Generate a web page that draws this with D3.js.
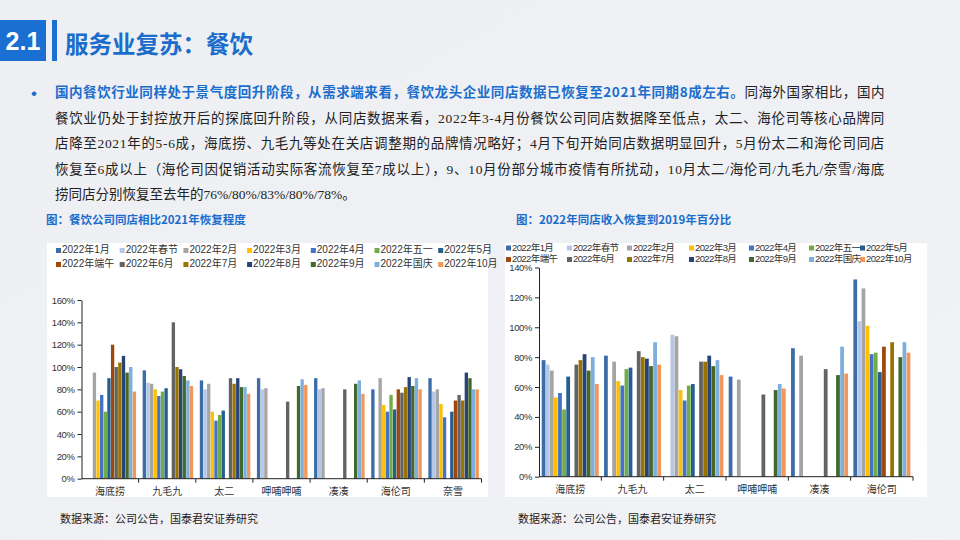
<!DOCTYPE html>
<html>
<head>
<meta charset="utf-8">
<script src="https://cdn.jsdelivr.net/npm/d3@7"></script>
<style>
  body { margin: 0; padding: 0; }
  svg { display: block; }
</style>
</head>
<body>
<div id="chart"></div>
<script>
// series (legend order) and colours
const seriesNames = ["2022年1月", "2022年春节", "2022年2月", "2022年3月", "2022年4月", "2022年五一", "2022年5月",
  "2022年端午", "2022年6月", "2022年7月", "2022年8月", "2022年9月", "2022年国庆", "2022年10月"];
const seriesColors = ["#3B6EA8", "#B4C7E7", "#A5A5A5", "#FFC000", "#4472C4", "#70AD47", "#255E91",
  "#9E480E", "#636363", "#997300", "#264478", "#43682B", "#7CAFDD", "#F1975A"];

// left chart: same store vs 2021 (%)
const leftCompanies = ["海底捞", "九毛九", "太二", "呷哺呷哺", "凑凑", "海伦司", "奈雪"];
const leftHaidilao = [null, null, 95, 70, 75, 60, 90, 120, 100, 104, 110, 95, 100, 78];
const leftJiumaojiu = [97, 86, 85, 80, 74, 78, 81, null, 140, 100, 98, 92, 88, 83];
const leftTaier = [88, 80, 85, 60, 52, 57, 61, null, 90, 85, 90, 82, 82, 76];
const leftXiabu = [90, 80, 81, null, null, null, null, null, 69, null, null, 83, 89, 84];
const leftCoucou = [90, 80, 81, null, null, null, null, null, 80, null, null, 85, 88, 76];
const leftHelens = [80, null, 90, 66, 60, 75, 62, 80, 77, 82, 91, 83, 90, 80];
const leftNaixue = [90, 78, 80, 67, 55, null, 60, 70, 75, 70, 95, 90, 80, 80];
const leftValues = [leftHaidilao, leftJiumaojiu, leftTaier, leftXiabu, leftCoucou, leftHelens, leftNaixue];
const leftTicks = [0, 20, 40, 60, 80, 100, 120, 140, 160];

// right chart: 2022 same store revenue vs 2019 (%)
const rightCompanies = ["海底捞", "九毛九", "太二", "呷哺呷哺", "凑凑", "海伦司"];
const rightHaidilao = [78, 75, 71, 53, 56, 45, 67, null, 75, 78, 82, 71, 80, 62];
const rightJiumaojiu = [81, null, 77, 64, 61, 72, 73, null, 84, 80, 79, 74, 90, 75];
const rightTaier = [null, 95, 94, 58, 51, 61, 62, null, 77, 77, 81, 74, 78, 68];
const rightXiabu = [67, null, 65, null, null, null, null, null, 55, null, null, 58, 62, 59];
const rightCoucou = [86, null, 81, null, null, null, null, null, 72, null, null, 68, 87, 69];
const rightHelens = [132, 104, 126, 101, 82, 83, 70, 87, null, 90, null, 80, 90, 83];
const rightValues = [rightHaidilao, rightJiumaojiu, rightTaier, rightXiabu, rightCoucou, rightHelens];
const rightTicks = [0, 20, 40, 60, 80, 100, 120, 140];

const width = 960, height = 540;
const cjk = "'Noto Sans CJK SC', 'Microsoft YaHei', sans-serif";
const blue = "#1B6DCC";

const svg = d3.select("#chart").append("svg")
  .attr("width", width)
  .attr("height", height);

// background
const grad = svg.append("defs").append("linearGradient")
  .attr("id", "bg").attr("x1", 0).attr("y1", 0).attr("x2", 1).attr("y2", 1);
grad.append("stop").attr("offset", "0%").attr("stop-color", "#EDEFF3");
grad.append("stop").attr("offset", "100%").attr("stop-color", "#F1F2F6");
svg.append("rect").attr("width", width).attr("height", height).attr("fill", "url(#bg)");

// header
svg.append("rect").attr("x", 0).attr("y", 20).attr("width", 46).attr("height", 41).attr("fill", "#1A6FD2");
svg.append("text").attr("x", 23).attr("y", 50).attr("text-anchor", "middle")
  .attr("fill", "#fff").attr("font-family", "'Liberation Sans', Arial").attr("font-weight", "bold")
  .attr("font-size", 25).text("2.1");
svg.append("rect").attr("x", 52).attr("y", 20).attr("width", 5).attr("height", 41).attr("fill", "#1A6FD2");
svg.append("text").attr("x", 65).attr("y", 53)
  .attr("fill", blue).attr("font-family", cjk).attr("font-weight", "bold")
  .attr("font-size", 23.5).text("服务业复苏：餐饮");

// paragraph
svg.append("text").attr("x", 31).attr("y", 99).attr("fill", blue)
  .attr("font-size", 17).attr("font-family", "'Liberation Sans', Arial").text("•");

const paraLines = [
  [["国内餐饮行业同样处于景气度回升阶段，从需求端来看，餐饮龙头企业同店数据已恢复至2021年同期8成左右。", true], ["同海外国家相比，国内", false]],
  [["餐饮业仍处于封控放开后的探底回升阶段，从同店数据来看，2022年3-4月份餐饮公司同店数据降至低点，太二、海伦司等核心品牌同", false]],
  [["店降至2021年的5-6成，海底捞、九毛九等处在关店调整期的品牌情况略好；4月下旬开始同店数据明显回升，5月份太二和海伦司同店", false]],
  [["恢复至6成以上（海伦司因促销活动实际客流恢复至7成以上），9、10月份部分城市疫情有所扰动，10月太二/海伦司/九毛九/奈雪/海底", false]],
  [["捞同店分别恢复至去年的76%/80%/83%/80%/78%。", false]]
];
paraLines.forEach((parts, i) => {
  const t = svg.append("text").attr("x", 55).attr("y", 97 + i * 25.5)
    .attr("font-size", 13.5);
  parts.forEach(([s, bold]) => {
    t.append("tspan").text(s)
      .attr("fill", bold ? blue : "#222")
      .attr("font-weight", bold ? "bold" : "normal")
      .attr("font-family", bold ? cjk : "'Liberation Serif', " + cjk);
  });
  if (i < 4) {
    const w = t.node().getComputedTextLength();
    const n = parts.map(p => p[0]).join("").length;
    t.attr("letter-spacing", (830 - w) / n);
  }
});

// chart titles & sources
svg.append("text").attr("x", 46).attr("y", 224).attr("fill", blue).attr("font-family", cjk)
  .attr("font-weight", "bold").attr("font-size", 11.5).text("图：餐饮公司同店相比2021年恢复程度");
svg.append("text").attr("x", 516).attr("y", 224).attr("fill", blue).attr("font-family", cjk)
  .attr("font-weight", "bold").attr("font-size", 11.5).text("图：2022年同店收入恢复到2019年百分比");
svg.append("text").attr("x", 60).attr("y", 523).attr("fill", "#222").attr("font-family", cjk)
  .attr("font-size", 11).text("数据来源：公司公告，国泰君安证券研究");
svg.append("text").attr("x", 518).attr("y", 523).attr("fill", "#222").attr("font-family", cjk)
  .attr("font-size", 11).text("数据来源：公司公告，国泰君安证券研究");

function drawChart(cfg) {
  const g = svg.append("g");
  g.append("rect").attr("x", cfg.panel[0]).attr("y", cfg.panel[1])
    .attr("width", cfg.panel[2]).attr("height", cfg.panel[3]).attr("fill", "#fff");

  // legend
  seriesNames.forEach((name, i) => {
    const row = Math.floor(i / 7), col = i % 7;
    const lx = cfg.legendX[col], ly = cfg.legendY[row];
    g.append("rect").attr("x", lx).attr("y", ly - 5).attr("width", 5).attr("height", 5)
      .attr("fill", seriesColors[i]);
    g.append("text").attr("x", lx + 6).attr("y", ly).attr("font-size", cfg.legendFont)
      .attr("letter-spacing", cfg.legendSpacing)
      .attr("font-family", "'Liberation Sans', " + cjk).attr("fill", "#333").text(name);
  });

  const y = d3.scaleLinear().domain(cfg.yDomain).range(cfg.yRange);
  const x0 = d3.scaleBand().domain(cfg.companies).range(cfg.xRange).padding(0);
  const x1 = d3.scaleBand().domain(d3.range(seriesNames.length))
    .range([cfg.inner[0], x0.bandwidth() - cfg.inner[1]]).paddingInner(0.08);

  // bars
  cfg.values.forEach((vals, gi) => {
    vals.forEach((v, si) => {
      if (v == null) return;
      g.append("rect")
        .attr("x", x0(cfg.companies[gi]) + x1(si))
        .attr("y", y(v))
        .attr("width", x1.bandwidth())
        .attr("height", y(0) - y(v))
        .attr("fill", seriesColors[si]);
    });
  });

  // y axis
  const yAxis = g.append("g").attr("transform", `translate(${cfg.xRange[0]},0)`)
    .call(d3.axisLeft(y).tickValues(cfg.ticks).tickFormat(d => d + "%").tickSize(4).tickSizeOuter(0));
  yAxis.selectAll("text").attr("font-size", 9.5).attr("font-family", "'Liberation Sans', Arial")
    .attr("fill", "#333").attr("letter-spacing", -0.4);
  yAxis.selectAll("line, path").attr("stroke", "#222");

  // x axis with ticks between categories
  const base = y(0);
  g.append("line").attr("x1", cfg.xRange[0]).attr("x2", cfg.xRange[1])
    .attr("y1", base).attr("y2", base).attr("stroke", "#222");
  cfg.companies.forEach((c, i) => {
    const bx = x0(c) + x0.bandwidth();
    g.append("line").attr("x1", bx).attr("x2", bx).attr("y1", base).attr("y2", base + 4)
      .attr("stroke", "#222");
    g.append("text").attr("x", x0(c) + x0.bandwidth() / 2).attr("y", base + 16)
      .attr("text-anchor", "middle").attr("font-size", 10).attr("font-family", cjk)
      .attr("fill", "#333").text(c);
  });
}

drawChart({
  panel: [47, 243, 441, 254],
  legendX: d3.range(7).map(i => 56 + i * 63.7),
  legendY: [253, 267],
  legendFont: 10,
  legendSpacing: 0,
  companies: leftCompanies,
  values: leftValues,
  ticks: leftTicks,
  yDomain: [0, 160],
  yRange: [478.7, 300],
  xRange: [81.5, 481.5],
  inner: [4, 2.6]
});

drawChart({
  panel: [505, 243, 422, 254],
  legendX: [506, 567, 627, 689, 749, 809, 860],
  legendY: [250.5, 262],
  legendFont: 9.5,
  legendSpacing: -0.6,
  companies: rightCompanies,
  values: rightValues,
  ticks: rightTicks,
  yDomain: [0, 140],
  yRange: [476.7, 267.5],
  xRange: [539, 913],
  inner: [2.7, 2.6]
});
</script>
</body>
</html>
